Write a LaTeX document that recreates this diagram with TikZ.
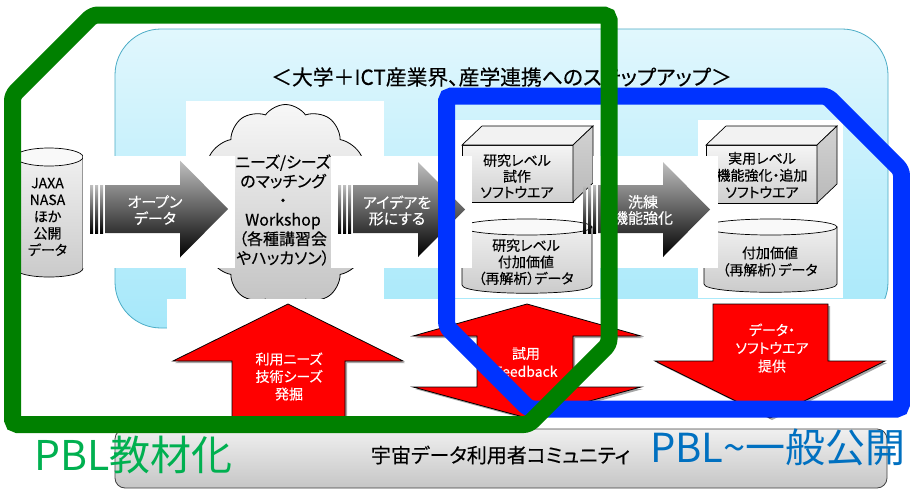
\documentclass[tikz,border=0pt]{standalone}
\usepackage{fontspec}
\setmainfont{Noto Sans CJK JP}[RawFeature=+palt,FakeBold=0.3]
\newfontfamily\labelfont{Noto Sans CJK JP}[RawFeature=+palt]
\usetikzlibrary{shapes.symbols,shadows}
\definecolor{pgreen}{RGB}{0,128,0}
\definecolor{pblue}{RGB}{0,51,255}
\definecolor{tgreen}{RGB}{0,176,80}
\definecolor{tblue}{RGB}{0,112,192}
\definecolor{lbtop}{RGB}{225,247,253}
\definecolor{lbbot}{RGB}{166,232,250}
\definecolor{lbline}{RGB}{75,172,198}
\begin{document}
\begin{tikzpicture}[x=1pt,y=-1pt,
  txt/.style={align=center,inner sep=0pt,text=black},
  wtxt/.style={align=center,inner sep=0pt,text=white},
  patch/.style={fill=white,draw=none},
  darrow/.style={top color=black!25,bottom color=black,draw=none},
  redarrow/.style={fill=red,draw=black,line width=0.8pt,
     drop shadow={shadow xshift=2pt,shadow yshift=-2pt,opacity=0.35,fill=black}},
  face/.style={draw=black,line width=0.7pt,top color=gray!8,bottom color=gray!38},
  topface/.style={draw=black,line width=0.7pt,fill=gray!10},
  sideface/.style={draw=black,line width=0.7pt,top color=gray!35,bottom color=gray!55},
  cylbody/.style={draw=black,line width=0.7pt,top color=gray!12,bottom color=gray!42},
  cyltop/.style={draw=black,line width=0.7pt,fill=gray!5},
  frame/.style={line width=17pt,rounded corners=5pt}]
\useasboundingbox (0,0) rectangle (910,493);
\fill[white] (0,0) rectangle (910,493);

% light blue background box
\path[draw=lbline,line width=0.8pt,top color=lbtop,bottom color=lbbot,rounded corners=46pt]
  (115,29) rectangle (888,328);
\node[font=\fontsize{20.8}{20.8}\selectfont,inner sep=0pt] (title) at (501.5,77)
  {＜大学＋ICT産業界、産学連携へのステップアップ＞};

% picture patches
\fill[patch] (186,101) rectangle (384,299);
\fill[patch] (455,120) rectangle (600,298);
\fill[patch] (698,120) rectangle (843,298);

% left cylinder (JAXA)
\path[cylbody] (15,157) -- (15,268) .. controls (15,280) and (83,280) .. (83,268) -- (83,157) -- cycle;
\path[cyltop] (49,157) ellipse [x radius=34pt,y radius=9pt];
\node[txt,font=\fontsize{14}{16.75}\selectfont] (jaxa) at (47.5,217) {JAXA\\NASA\\ほか\\公開\\データ};

% cloud
\node[cloud,cloud puffs=12,cloud puff arc=110,cloud ignores aspect,
  minimum width=175pt,minimum height=205pt,draw=black,line width=0.8pt,
  top color=gray!6,bottom color=gray!48,inner sep=0pt] (cloudn) at (285.5,207) {};
\node[txt,font=\fontsize{16}{19.2}\selectfont] (cloudt) at (283,210)
  {ニーズ/シーズ\\のマッチング\\・\\Workshop\\（各種講習会\\やハッカソン）};

% research level box
\path[face] (462,145) rectangle (573,202);
\path[topface] (462,145) -- (482,126) -- (593,126) -- (573,145) -- cycle;
\path[sideface] (573,145) -- (593,126) -- (593,183) -- (573,202) -- cycle;
\node[txt,font=\fontsize{14}{16}\selectfont] (box1t) at (517,176) {研究レベル\\試作\\ソフトウエア};

% research level cylinder
\path[cylbody] (462,227) -- (462,285) .. controls (462,296) and (592,296) .. (592,285) -- (592,227) -- cycle;
\path[cyltop] (527,227) ellipse [x radius=65pt,y radius=8pt];
\node[txt,font=\fontsize{14}{16.5}\selectfont] (cyl1t) at (526,262) {研究レベル\\付加価値\\（再解析）データ};

% practical level box
\path[face] (706,145) rectangle (817,203);
\path[topface] (706,145) -- (726,126) -- (837,126) -- (817,145) -- cycle;
\path[sideface] (817,145) -- (837,126) -- (837,184) -- (817,203) -- cycle;
\node[txt,font=\fontsize{14}{17}\selectfont] (box2t) at (762,175) {実用レベル\\機能強化・追加\\ソフトウエア};

% practical level cylinder
\path[cylbody] (704,227) -- (704,284) .. controls (704,295) and (837,295) .. (837,284) -- (837,227) -- cycle;
\path[cyltop] (770.5,227) ellipse [x radius=66.5pt,y radius=8pt];
\node[txt,font=\fontsize{14}{17}\selectfont] (cyl2t) at (770,261.5) {付加価値\\（再解析）データ};

% arrow patches
\fill[patch] (83,156) rectangle (235,268);
\fill[patch] (331,156) rectangle (472,268);
\fill[patch] (593,156) rectangle (718,268);

% dark arrows
\path[darrow] (90,185) rectangle (93,233);
\path[darrow] (95,185) rectangle (98,233);
\path[darrow] (100,185) rectangle (103,233);
\path[darrow] (105,185) -- (180,185) -- (180,160.5) -- (228,209) -- (180,257.5) -- (180,233) -- (105,233) -- cycle;
\node[wtxt,font=\fontsize{15}{16.5}\selectfont] (a1t) at (155,210) {オープン\\データ};

\path[darrow] (338,185) rectangle (341,233);
\path[darrow] (343,185) rectangle (346,233);
\path[darrow] (348,185) rectangle (351,233);
\path[darrow] (353,185) -- (418,185) -- (418,162) -- (465,209.5) -- (418,257) -- (418,233) -- (353,233) -- cycle;
\node[wtxt,font=\fontsize{15}{16}\selectfont] (a2t) at (397,210.5) {アイデアを\\形にする};

\path[darrow] (583,185) rectangle (586,233);
\path[darrow] (588,185) rectangle (591,233);
\path[darrow] (593,185) rectangle (596,233);
\path[darrow] (598,185) -- (663,185) -- (663,162) -- (710,209.5) -- (663,257) -- (663,233) -- (598,233) -- cycle;
\node[wtxt,font=\fontsize{15}{16}\selectfont] (a3t) at (643,210) {洗練\\機能強化};

% lower patch and red arrows
\fill[patch] (167,299) rectangle (888,420);
\path[redarrow] (232,420) -- (232,361) -- (173,361) -- (288,304) -- (403,361) -- (345,361) -- (345,420) -- cycle;
\node[wtxt,font=\fontsize{14}{17.5}\selectfont] (r1t) at (289,376.5) {利用ニーズ\\技術シーズ\\発掘};
\path[redarrow] (527,304) -- (641,336) -- (573,336) -- (573,387) -- (641,387) -- (527,418)
  -- (413,387) -- (477,387) -- (477,336) -- (413,336) -- cycle;
\node[wtxt,font=\fontsize{14}{18}\selectfont] (r2t) at (526,362) {試用\\Feedback};
\path[redarrow] (713,304) -- (828,304) -- (828,361) -- (885,361) -- (770,418) -- (655,361) -- (713,361) -- cycle;
\node[wtxt,font=\fontsize{14}{18}\selectfont] (r3t) at (772,348) {データ・\\ソフトウエア\\提供};

% community box
\path[draw=black!75,line width=0.8pt,top color=gray!12,bottom color=gray!45,rounded corners=10pt]
  (115,429) rectangle (887,488);
\node[txt,font=\fontsize{20}{20}\selectfont] (comm) at (500.5,455) {宇宙データ利用者コミュニティ};

% frames
\draw[frame,pblue] (446.5,200) -- (446.5,96) -- (827,96) -- (901.5,170.5) -- (901.5,409)
  -- (529,409) -- (446.5,326.5) -- cycle;
\draw[frame,pgreen] (12.5,250) -- (12.5,95.5) -- (93,15) -- (609,15) -- (609,344)
  -- (528.5,424.5) -- (12.5,424.5) -- cycle;

% labels
\node[inner sep=0pt,text=tgreen,font=\labelfont\fontsize{41}{41}\selectfont] (pbl1) at (133.5,455) {PBL教材化};
\node[inner sep=0pt,anchor=west,text=tblue,font=\labelfont\fontsize{40}{40}\selectfont] (pbl2) at (650,447) {PBL\textasciitilde 一般公開};
\end{tikzpicture}
\end{document}
